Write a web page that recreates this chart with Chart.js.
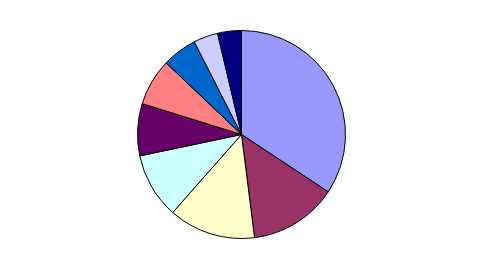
<!DOCTYPE html>
<html>
<head>
<meta charset="utf-8">
<script src="https://cdn.jsdelivr.net/npm/chart.js@4/dist/chart.umd.min.js"></script>
<style>
  html, body { margin: 0; padding: 0; background: #fff; }
  #wrap { width: 485px; height: 269px; }
</style>
</head>
<body>
<div id="wrap"><canvas id="G1" width="485" height="269"></canvas></div>
<script>
const categories = ['1', '2', '3', '4', '5', '6', '7', '8', '9'];
const values = [34.3, 13.7, 13.5, 10.2, 8.1, 7.3, 5.4, 3.8, 3.7];
const colors = ['#9999FF', '#993366', '#FFFFCC', '#CCFFFF', '#660066',
                '#FF8080', '#0066CC', '#CCCCFF', '#000080'];

const config = {
  type: 'pie',
  data: {
    labels: categories,
    datasets: [{
      data: values,
      backgroundColor: colors,
      borderColor: '#000',
      borderWidth: 1,
      hoverBorderWidth: 1,
      hoverOffset: 0
    }]
  },
  options: {
    responsive: false,
    animation: false,
    layout: { padding: { top: 30, bottom: 30, left: 0, right: 2 } },
    plugins: {
      legend: { display: false },
      tooltip: { enabled: false }
    }
  }
};

new Chart(document.getElementById('G1'), config);
</script>
</body>
</html>
